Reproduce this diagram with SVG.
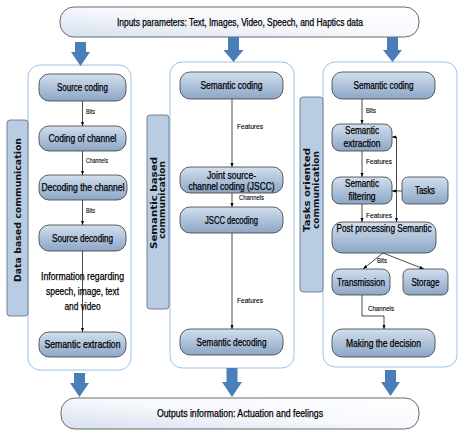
<svg xmlns="http://www.w3.org/2000/svg" width="463" height="436" viewBox="0 0 463 436">
<defs>
<linearGradient id="ng" x1="0" y1="0" x2="0" y2="1">
<stop offset="0" stop-color="#d2dfee"/>
<stop offset="1" stop-color="#8ca6c6"/>
</linearGradient>
<linearGradient id="ig" x1="0" y1="1" x2="1" y2="0">
<stop offset="0" stop-color="#d6e0ef"/>
<stop offset="0.5" stop-color="#f6f8fc"/>
<stop offset="1" stop-color="#ffffff"/>
</linearGradient>
<marker id="ah" viewBox="0 0 8 6" refX="8" refY="3" markerWidth="4.4" markerHeight="3.3" markerUnits="userSpaceOnUse" orient="auto-start-reverse">
<path d="M0,0 L8,3 L0,6 z" fill="#000"/>
</marker>
<style>
.pn{fill:#fff;stroke:#9cc0e4;stroke-width:1}
.tab{fill:#b8cce4;stroke:#5f6b78;stroke-width:0.8}
.nd{fill:url(#ng);stroke:#3a3a3a;stroke-width:0.8}
.io{fill:url(#ig);stroke:#595959;stroke-width:0.9}
.t{font-family:"Liberation Sans Narrow","Liberation Sans",Arial,sans-serif;font-size:10px;fill:#000;stroke:#000;stroke-width:0.25;text-anchor:middle}
.s{font-family:"Liberation Sans Narrow","Liberation Sans",Arial,sans-serif;font-size:6.8px;fill:#000;stroke:#000;stroke-width:0.1}
.tb{font-family:"DejaVu Sans",sans-serif;font-weight:bold;font-size:8.8px;fill:#111;text-anchor:middle}
.ba{fill:#4a7ebb}
.cn{fill:none;stroke:#000;stroke-width:0.7}
.ca{fill:none;stroke:#000;stroke-width:0.7;marker-end:url(#ah)}
</style>
</defs>

<g id="input">
<rect class="io" x="60" y="7" width="359" height="30" rx="14"/>
<text class="t" x="240" y="25.5" textLength="246" lengthAdjust="spacingAndGlyphs">Inputs parameters: Text, Images, Video, Speech, and Haptics data</text>
</g>

<g id="panels">
<rect id="panel-data" class="pn" x="28" y="65" width="103" height="305" rx="12"/>
<rect id="panel-semantic" class="pn" x="170" y="62" width="124" height="306" rx="12"/>
<rect id="panel-tasks" class="pn" x="323" y="62" width="134" height="305" rx="12"/>
</g>

<g id="tab-data">
<rect class="tab" x="7" y="120" width="21" height="196" rx="3"/>
<text class="tb" transform="translate(21,210) rotate(-90)" textLength="144" lengthAdjust="spacingAndGlyphs">Data  based communication</text>
</g>
<g id="tab-semantic">
<rect class="tab" x="147" y="115" width="22" height="194" rx="3"/>
<text class="tb" transform="translate(156.5,203) rotate(-90)" textLength="92" lengthAdjust="spacingAndGlyphs">Semantic  based</text>
<text class="tb" transform="translate(165,200) rotate(-90)" textLength="78" lengthAdjust="spacingAndGlyphs">communication</text>
</g>
<g id="tab-tasks">
<rect class="tab" x="300" y="97" width="23" height="195" rx="3"/>
<text class="tb" transform="translate(310,190) rotate(-90)" textLength="84" lengthAdjust="spacingAndGlyphs">Tasks oriented</text>
<text class="tb" transform="translate(319,190) rotate(-90)" textLength="78" lengthAdjust="spacingAndGlyphs">communication</text>
</g>

<g id="big-arrows">
<polygon class="ba" points="75,42 86,42 86,52 90,52 80.5,66 71,52 75,52"/>
<polygon class="ba" points="228,37 239,37 239,50 243.5,50 233.5,62 223.5,50 228,50"/>
<polygon class="ba" points="387,37 398,37 398,50 402,50 392.5,62 383,50 387,50"/>
<polygon class="ba" points="74,373 85,373 85,383 89,383 79.5,397 70,383 74,383"/>
<polygon class="ba" points="226.5,368 237.5,368 237.5,382 242,382 232,397 222,382 226.5,382"/>
<polygon class="ba" points="385,370 396,370 396,382 400,382 390.5,396 381,382 385,382"/>
</g>

<g id="connectors">
<path class="ca" d="M82.5,101 V126"/>
<path class="ca" d="M82.5,151 V175"/>
<path class="ca" d="M82.5,200 V225"/>
<path class="ca" d="M82.5,251 V332"/>
<path class="ca" d="M232,99 V167"/>
<path class="ca" d="M232,193 V207"/>
<path class="ca" d="M232,233 V329"/>
<path class="ca" d="M362,99 V124"/>
<path class="ca" d="M362,151 V177"/>
<path class="ca" d="M362,204 V222"/>
<path class="ca" d="M402,191 H392"/>
<path class="ca" style="marker-start:url(#ah)" d="M392,137 H396.5 V222"/>
<path class="ca" d="M383,253 L363,269"/>
<path class="ca" d="M383,253 L424,269"/>
<path class="ca" d="M362,295 V316 H384 V329"/>
<text class="s" x="86" y="114" textLength="9" lengthAdjust="spacingAndGlyphs">Bits</text>
<text class="s" x="86" y="163" textLength="22" lengthAdjust="spacingAndGlyphs">Channels</text>
<text class="s" x="86" y="213" textLength="9" lengthAdjust="spacingAndGlyphs">Bits</text>
<text class="s" x="237" y="129" textLength="26" lengthAdjust="spacingAndGlyphs">Features</text>
<text class="s" x="239" y="199.5" textLength="25" lengthAdjust="spacingAndGlyphs">Channels</text>
<text class="s" x="237" y="303" textLength="26" lengthAdjust="spacingAndGlyphs">Features</text>
<text class="s" x="366" y="113" textLength="10" lengthAdjust="spacingAndGlyphs">Bits</text>
<text class="s" x="366" y="164" textLength="26" lengthAdjust="spacingAndGlyphs">Features</text>
<text class="s" x="366" y="218" textLength="26" lengthAdjust="spacingAndGlyphs">Features</text>
<text class="s" x="377" y="263" textLength="10" lengthAdjust="spacingAndGlyphs">Bits</text>
<text class="s" x="368" y="311" textLength="26" lengthAdjust="spacingAndGlyphs">Channels</text>
</g>

<g id="source-coding">
<rect class="nd" x="39" y="74" width="87" height="27" rx="10"/>
<text class="t" x="82.5" y="91" textLength="51" lengthAdjust="spacingAndGlyphs">Source coding</text>
</g>
<g id="coding-of-channel">
<rect class="nd" x="39" y="126" width="87" height="25" rx="10"/>
<text class="t" x="82.5" y="142" textLength="68" lengthAdjust="spacingAndGlyphs">Coding of channel</text>
</g>
<g id="decoding-the-channel">
<rect class="nd" x="39" y="175" width="88" height="25" rx="10"/>
<text class="t" x="83" y="191" textLength="83" lengthAdjust="spacingAndGlyphs">Decoding the channel</text>
</g>
<g id="source-decoding">
<rect class="nd" x="39" y="225" width="87" height="26" rx="10"/>
<text class="t" x="82.5" y="241.5" textLength="61" lengthAdjust="spacingAndGlyphs">Source decoding</text>
</g>
<g id="information">
<text class="t" x="82.5" y="280" textLength="83" lengthAdjust="spacingAndGlyphs">Information regarding</text>
<text class="t" x="82.5" y="295" textLength="73" lengthAdjust="spacingAndGlyphs">speech, image, text</text>
<text class="t" x="82.5" y="309.5" textLength="36" lengthAdjust="spacingAndGlyphs">and video</text>
</g>
<g id="semantic-extraction-left">
<rect class="nd" x="39" y="332" width="87" height="25" rx="10"/>
<text class="t" x="82.5" y="348" textLength="76" lengthAdjust="spacingAndGlyphs">Semantic extraction</text>
</g>

<g id="semantic-coding-mid">
<rect class="nd" x="180" y="72" width="103" height="27" rx="10"/>
<text class="t" x="231.5" y="89" textLength="62" lengthAdjust="spacingAndGlyphs">Semantic coding</text>
</g>
<g id="jscc">
<rect class="nd" x="180" y="167" width="103" height="26" rx="10"/>
<text class="t" x="231.5" y="178.5" textLength="49" lengthAdjust="spacingAndGlyphs">Joint source-</text>
<text class="t" x="231.5" y="189.5" textLength="86" lengthAdjust="spacingAndGlyphs">channel coding (JSCC)</text>
</g>
<g id="jscc-decoding">
<rect class="nd" x="180" y="207" width="103" height="26" rx="10"/>
<text class="t" x="231.5" y="223.5" textLength="53" lengthAdjust="spacingAndGlyphs">JSCC decoding</text>
</g>
<g id="semantic-decoding">
<rect class="nd" x="180" y="329" width="103" height="26" rx="10"/>
<text class="t" x="231.5" y="345.5" textLength="70" lengthAdjust="spacingAndGlyphs">Semantic decoding</text>
</g>

<g id="semantic-coding-right">
<rect class="nd" x="332" y="72" width="103" height="27" rx="10"/>
<text class="t" x="383.5" y="89" textLength="60" lengthAdjust="spacingAndGlyphs">Semantic coding</text>
</g>
<g id="semantic-extraction-right">
<rect class="nd" x="332" y="124" width="60" height="27" rx="8"/>
<text class="t" x="362" y="133.5" textLength="34" lengthAdjust="spacingAndGlyphs">Semantic</text>
<text class="t" x="362" y="146.5" textLength="37" lengthAdjust="spacingAndGlyphs">extraction</text>
</g>
<g id="semantic-filtering">
<rect class="nd" x="332" y="177" width="60" height="27" rx="8"/>
<text class="t" x="362" y="186.5" textLength="34" lengthAdjust="spacingAndGlyphs">Semantic</text>
<text class="t" x="362" y="199.5" textLength="27" lengthAdjust="spacingAndGlyphs">filtering</text>
</g>
<g id="tasks">
<rect class="nd" x="402" y="177" width="46" height="27" rx="6"/>
<text class="t" x="425" y="194" textLength="20" lengthAdjust="spacingAndGlyphs">Tasks</text>
</g>
<g id="post-processing">
<rect class="nd" x="332" y="222" width="104" height="31" rx="10"/>
<text class="t" x="384" y="232" textLength="95" lengthAdjust="spacingAndGlyphs">Post processing Semantic</text>
</g>
<g id="transmission">
<rect class="nd" x="332" y="269" width="58" height="26" rx="8"/>
<text class="t" x="361" y="285.5" textLength="48" lengthAdjust="spacingAndGlyphs">Transmission</text>
</g>
<g id="storage">
<rect class="nd" x="403" y="269" width="45" height="26" rx="6"/>
<text class="t" x="425.5" y="285.5" textLength="28" lengthAdjust="spacingAndGlyphs">Storage</text>
</g>
<g id="making-decision">
<rect class="nd" x="332" y="329" width="103" height="28" rx="10"/>
<text class="t" x="383.5" y="346.5" textLength="75" lengthAdjust="spacingAndGlyphs">Making the decision</text>
</g>

<g id="output">
<rect class="io" x="61" y="398" width="358" height="31" rx="14"/>
<text class="t" x="240" y="416.5" textLength="166" lengthAdjust="spacingAndGlyphs">Outputs information: Actuation and feelings</text>
</g>
</svg>
